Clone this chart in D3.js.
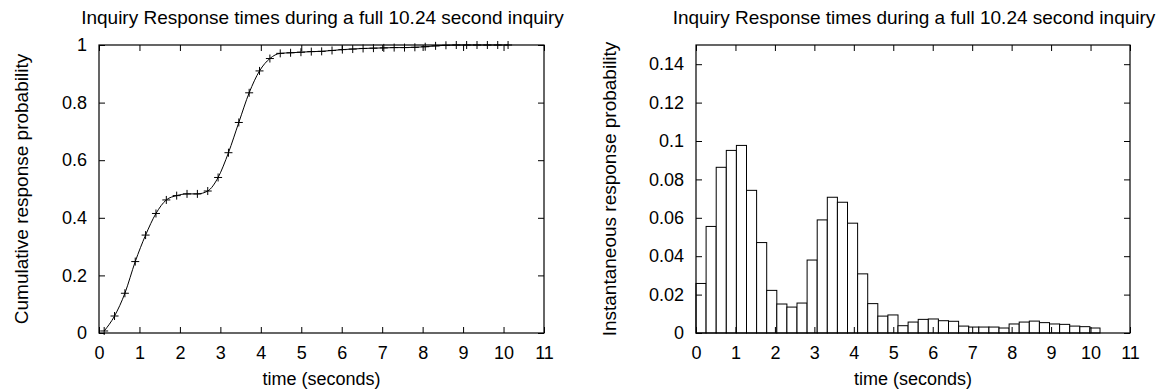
<!DOCTYPE html>
<html>
<head>
<meta charset="utf-8">
<script src="https://cdn.jsdelivr.net/npm/d3@7/dist/d3.min.js"></script>
<style>
  html, body { margin: 0; padding: 0; background: #fff; }
  text { font-family: "Liberation Sans", Arial, Helvetica, sans-serif; fill: #000; }
</style>
</head>
<body>
<svg id="chart" width="1163" height="391"></svg>
<script>
// bin centres of the 10.24 s inquiry (seconds), 0.256 s per bin
const binWidth = 0.256
const binCentres = [0.128, 0.384, 0.640, 0.896, 1.152, 1.408, 1.664, 1.920, 2.176, 2.432,
  2.688, 2.944, 3.200, 3.456, 3.712, 3.968, 4.224, 4.480, 4.736, 4.992,
  5.248, 5.504, 5.760, 6.016, 6.272, 6.528, 6.784, 7.040, 7.296, 7.552,
  7.808, 8.064, 8.320, 8.576, 8.832, 9.088, 9.344, 9.600, 9.856, 10.112]

// left chart: cumulative response probability
const cumulative = [0.007, 0.059, 0.138, 0.248, 0.340, 0.415, 0.462, 0.477, 0.483, 0.483,
  0.493, 0.540, 0.626, 0.731, 0.834, 0.910, 0.953, 0.971, 0.973, 0.975,
  0.977, 0.978, 0.981, 0.984, 0.986, 0.988, 0.989, 0.990, 0.991, 0.991,
  0.992, 0.994, 0.997, 0.999, 1.000, 1.000, 1.000, 1.000, 1.000, 1.000]

// right chart: instantaneous response probability
const instant = [0.0258, 0.0555, 0.0863, 0.0951, 0.0977, 0.0743, 0.0471, 0.0222, 0.0151, 0.0135,
  0.0156, 0.0380, 0.0589, 0.0707, 0.0681, 0.0572, 0.0308, 0.0153, 0.0088, 0.0094,
  0.0038, 0.0057, 0.0071, 0.0073, 0.0064, 0.0061, 0.0036, 0.0031, 0.0031, 0.0031,
  0.0026, 0.0047, 0.0057, 0.0062, 0.0054, 0.0047, 0.0045, 0.0036, 0.0033, 0.0026]

const xTicks = [0, 1, 2, 3, 4, 5, 6, 7, 8, 9, 10, 11]
const xTickLabels = ["0", "1", "2", "3", "4", "5", "6", "7", "8", "9", "10", "11"]
const cumTicks = [0, 0.2, 0.4, 0.6, 0.8, 1]
const cumTickLabels = ["0", "0.2", "0.4", "0.6", "0.8", "1"]
const instTicks = [0, 0.02, 0.04, 0.06, 0.08, 0.1, 0.12, 0.14]
const instTickLabels = ["0", "0.02", "0.04", "0.06", "0.08", "0.1", "0.12", "0.14"]

const titleText = "Inquiry Response times during a full 10.24 second inquiry"
const xTitle = "time (seconds)"

const svg = d3.select("#chart")
const tickLen = 6

/**
 * draws the frame, mirrored inward ticks and labels of one gnuplot style panel
 */
const drawFrame = (g, x, y, yTicks, yLabels, yTitle, yTitleX) => {
  const [x0, x1] = x.range()
  const [y0, y1] = y.range()

  const fmt = (ticks, labels) => (d) => labels[ticks.indexOf(d)]

  g.append("g")
    .attr("transform", "translate(0," + y0 + ")")
    .call(d3.axisBottom(x).tickValues(xTicks).tickFormat(fmt(xTicks, xTickLabels))
      .tickSizeInner(-tickLen).tickSizeOuter(0).tickPadding(13))
  g.append("g")
    .attr("transform", "translate(0," + y1 + ")")
    .call(d3.axisTop(x).tickValues(xTicks).tickFormat("").tickSizeInner(-tickLen).tickSizeOuter(0))
  g.append("g")
    .attr("transform", "translate(" + x0 + ",0)")
    .call(d3.axisLeft(y).tickValues(yTicks).tickFormat(fmt(yTicks, yLabels))
      .tickSizeInner(-tickLen).tickSizeOuter(0).tickPadding(12))
  g.append("g")
    .attr("transform", "translate(" + x1 + ",0)")
    .call(d3.axisRight(y).tickValues(yTicks).tickFormat("").tickSizeInner(-tickLen).tickSizeOuter(0))

  g.selectAll(".domain").remove()
  g.selectAll(".tick line").attr("stroke", "#000").attr("stroke-width", 1)
  g.selectAll(".tick text")
    .style("font-family", '"Liberation Sans", Arial, sans-serif')
    .style("font-size", "18px")
    .attr("fill", "#000")

  // outer box
  g.append("rect")
    .attr("x", x0)
    .attr("y", y1)
    .attr("width", x1 - x0)
    .attr("height", y0 - y1)
    .attr("fill", "none")
    .attr("stroke", "#000")
    .attr("stroke-width", 1.2)

  g.append("text")
    .attr("x", (x0 + x1) / 2 + 1)
    .attr("y", 24)
    .attr("text-anchor", "middle")
    .style("font-size", "19px")
    .text(titleText)

  g.append("text")
    .attr("x", (x0 + x1) / 2)
    .attr("y", 385)
    .attr("text-anchor", "middle")
    .style("font-size", "18px")
    .text(xTitle)

  g.append("text")
    .attr("transform", "translate(" + yTitleX + "," + (y0 + y1) / 2 + ") rotate(-90)")
    .attr("text-anchor", "middle")
    .style("font-size", "19px")
    .text(yTitle)
}

// 左图: 累积概率曲线
const left = svg.append("g")
const xL = d3.scaleLinear().domain([0, 11]).range([99, 544])
const yL = d3.scaleLinear().domain([0, 1]).range([333, 45])

const line = d3.line()
  .x((d, i) => xL(binCentres[i]))
  .y((d) => yL(d))
  .curve(d3.curveMonotoneX)

left.append("path")
  .datum(cumulative)
  .attr("d", line)
  .attr("fill", "none")
  .attr("stroke", "#000")
  .attr("stroke-width", 1)

// plus markers
const arm = 4
left.selectAll(".pt")
  .data(cumulative)
  .enter()
  .append("path")
  .attr("class", "pt")
  .attr("d", (d, i) => {
    const cx = xL(binCentres[i]), cy = yL(d)
    return "M" + (cx - arm) + "," + cy + "H" + (cx + arm) + "M" + cx + "," + (cy - arm) + "V" + (cy + arm)
  })
  .attr("stroke", "#000")
  .attr("stroke-width", 1)

drawFrame(left, xL, yL, cumTicks, cumTickLabels, "Cumulative response probability", 28)

// 右图: 瞬时概率直方图
const right = svg.append("g")
const xR = d3.scaleLinear().domain([0, 11]).range([696, 1130])
const yR = d3.scaleLinear().domain([0, 0.15]).range([333, 45])

right.selectAll(".bar")
  .data(instant)
  .enter()
  .append("rect")
  .attr("class", "bar")
  .attr("x", (d, i) => xR(binCentres[i] - binWidth / 2))
  .attr("width", (d, i) => xR(binCentres[i] + binWidth / 2) - xR(binCentres[i] - binWidth / 2))
  .attr("y", (d) => yR(d))
  .attr("height", (d) => yR(0) - yR(d))
  .attr("fill", "#fff")
  .attr("stroke", "#000")
  .attr("stroke-width", 1)

drawFrame(right, xR, yR, instTicks, instTickLabels, "Instantaneous response probability", 616)
</script>
</body>
</html>
